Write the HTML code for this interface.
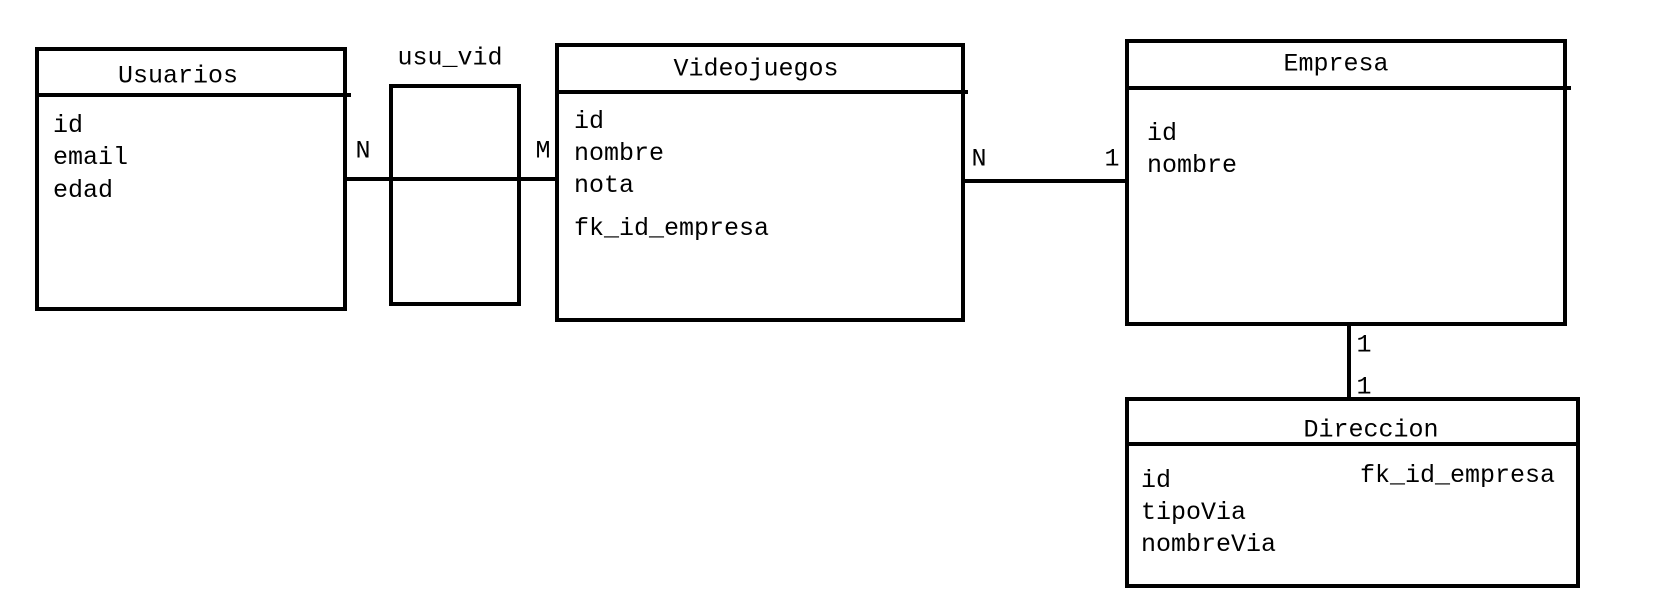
<!DOCTYPE html>
<html><head><meta charset="utf-8"><style>
body{margin:0;width:1667px;height:609px;background:#fff;position:relative;overflow:hidden;font-family:"Liberation Mono",monospace;font-size:25px;color:#000}
.b{position:absolute;border:4px solid #000;box-sizing:border-box}
.l{position:absolute;background:#000}
.t{position:absolute;line-height:1;white-space:nowrap}
.c{transform:translate(-50%,-50%)}
</style></head><body>
<div class="b" style="left:35px;top:47px;width:312px;height:264px"></div>
<div class="l" style="left:39px;top:93px;width:312px;height:4px"></div>
<div class="t c" style="left:178px;top:76px">Usuarios</div>
<div class="t" style="left:53px;top:113px">id</div>
<div class="t" style="left:53px;top:145px">email</div>
<div class="t" style="left:53px;top:178px">edad</div>

<div class="b" style="left:389px;top:84px;width:132px;height:222px"></div>
<div class="t c" style="left:450px;top:58px">usu_vid</div>

<div class="l" style="left:345px;top:177px;width:212px;height:4px"></div>
<div class="t c" style="left:363px;top:151px">N</div>
<div class="t c" style="left:543px;top:151px">M</div>

<div class="b" style="left:555px;top:43px;width:410px;height:279px"></div>
<div class="l" style="left:557px;top:90px;width:411px;height:4px"></div>
<div class="t c" style="left:756px;top:69px">Videojuegos</div>
<div class="t" style="left:574px;top:109px">id</div>
<div class="t" style="left:574px;top:141px">nombre</div>
<div class="t" style="left:574px;top:173px">nota</div>
<div class="t" style="left:574px;top:216px">fk_id_empresa</div>

<div class="l" style="left:963px;top:179px;width:165px;height:4px"></div>
<div class="t c" style="left:979px;top:159px">N</div>
<div class="t c" style="left:1112px;top:159px">1</div>

<div class="b" style="left:1125px;top:39px;width:442px;height:287px"></div>
<div class="l" style="left:1127px;top:86px;width:444px;height:4px"></div>
<div class="t c" style="left:1336px;top:64px">Empresa</div>
<div class="t" style="left:1147px;top:121px">id</div>
<div class="t" style="left:1147px;top:153px">nombre</div>

<div class="l" style="left:1347px;top:322px;width:4px;height:79px"></div>
<div class="t c" style="left:1364px;top:345px">1</div>
<div class="t c" style="left:1364px;top:387px">1</div>

<div class="b" style="left:1125px;top:397px;width:455px;height:191px"></div>
<div class="l" style="left:1127px;top:442px;width:451px;height:4px"></div>
<div class="t c" style="left:1371px;top:430px">Direccion</div>
<div class="t" style="left:1141px;top:468px">id</div>
<div class="t" style="left:1141px;top:500px">tipoVia</div>
<div class="t" style="left:1141px;top:532px">nombreVia</div>
<div class="t" style="left:1360px;top:463px">fk_id_empresa</div>
</body></html>
